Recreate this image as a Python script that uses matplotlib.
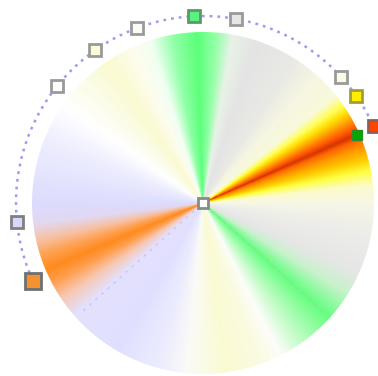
import numpy as np
import matplotlib
matplotlib.use("Agg")
import matplotlib.pyplot as plt
from matplotlib.colors import to_rgb

# ── gradient stops (angle in degrees, counter-clockwise from east) ──
stop_angles = [0, 6, 11, 15, 19, 22, 24, 26, 29, 32, 35, 39, 48, 58, 72, 80,
               85, 92, 100, 108, 114, 124, 134, 145, 158, 180, 187, 193, 198,
               203, 208, 214, 221, 240, 255, 265, 278, 290, 297, 305, 318,
               328, 336, 350, 360]
stop_colors = ["#f7f7e6", "#fbfbcc", "#ffff40", "#ffcc00", "#ff9900",
               "#ff6600", "#d83300", "#ff5500", "#ff9900", "#ffdd00",
               "#ffff55", "#f9f9dc", "#f6f6e2", "#e9e9e5", "#e4e4e4",
               "#e8f2e8", "#99ffaa", "#5cff7a", "#8fffa6", "#f0fff2",
               "#fdfdf0", "#fafad2", "#fcfce8", "#ffffff", "#eeeeff",
               "#dcdcfe", "#e2d8f2", "#f7c0a0", "#ffa050", "#ff8a1e",
               "#ffa050", "#f7c8b4", "#e4e0fc", "#e0e0ff", "#ececfe",
               "#fbfbf6", "#fafad2", "#fbfbe2", "#fdfdfa", "#c4fcc8",
               "#66ff80", "#c8f2cc", "#e6e6e6", "#ededea", "#f7f7e6"]

# ── handles on the outer arc ──
handle_angles = [92.8, 79.8, 110.8, 125.1, 141.3, 185.8, 204.8, 42.4, 35.0, 24.2]
handle_colors = ["#5cf080", "#e6e6e6", "#fbfbf8", "#fbfbd8", "#fdfdfd",
                 "#d8d8fa", "#f59130", "#fbfbe6", "#ffee00", "#ff4400"]
handle_edges = ["#5a9a6a", "#9a9a9a", "#9a9a9a", "#9a9a9a", "#9a9a9a",
                "#808080", "#707070", "#9a9a9a", "#a0a030", "#886060"]
handle_sizes = [9, 9, 9, 9, 9, 9, 11.5, 9, 9, 9]

arc_span = (23, 206)
focus_angle = 23.8
guide_angles = [222, 24, 318]
guide_colors = ["#b4b4ff", "#aa5511", "#bbbbbb"]

W, H = 378, 376
cx, cy = 203, 203
radius = 171
arc_radius = 187

fig = plt.figure(figsize=(W / 100, H / 100), dpi=100)
ax = fig.add_axes([0, 0, 1, 1])
ax.set_xlim(0, W)
ax.set_ylim(H, 0)
ax.axis("off")

# ── conic gradient disc ──
xs, ys = np.meshgrid(np.arange(W) + 0.5, np.arange(H) + 0.5)
ang = np.degrees(np.arctan2(cy - ys, xs - cx)) % 360
r = np.hypot(xs - cx, ys - cy)
rgb = np.array([to_rgb(c) for c in stop_colors])
img = np.stack([np.interp(ang, stop_angles, rgb[:, k]) for k in range(3)], axis=-1)
alpha = np.clip(radius + 0.5 - r, 0, 1)[..., None]
img = img * alpha + (1 - alpha)
ax.imshow(img, extent=(0, W, H, 0), interpolation="nearest", zorder=1)

# ── guide lines from the centre ──
for a, c in zip(guide_angles, guide_colors):
    t = np.radians(a)
    ax.plot([cx + 12 * np.cos(t), cx + 165 * np.cos(t)],
            [cy - 12 * np.sin(t), cy - 165 * np.sin(t)],
            color=c, lw=1.3, ls=(0, (1.5, 3)), alpha=0.5, zorder=2)

# ── dotted arc ──
t = np.radians(np.linspace(arc_span[0], arc_span[1], 300))
ax.plot(cx + arc_radius * np.cos(t), cy - arc_radius * np.sin(t),
        color="#9c9cf0", lw=1.8, ls=(0, (1.1, 2.0)), zorder=3)

# ── handles ──
for a, fc, ec, s in zip(handle_angles, handle_colors, handle_edges, handle_sizes):
    t = np.radians(a)
    ax.plot(cx + arc_radius * np.cos(t), cy - arc_radius * np.sin(t),
            marker="s", ms=s, mfc=fc, mec=ec, mew=2.0, ls="none", zorder=4)

t = np.radians(focus_angle)
ax.plot(cx + (radius - 3) * np.cos(t), cy - (radius - 3) * np.sin(t),
        marker="s", ms=6.5, mfc="#00aa00", mec="#2e8b2e", mew=1.0, zorder=5)

# centre handle
ax.plot(cx, cy, marker="s", ms=7.5, mfc="white", mec="#8a8a8a", mew=2.0, zorder=5)

fig.savefig("out.png", dpi=100)
